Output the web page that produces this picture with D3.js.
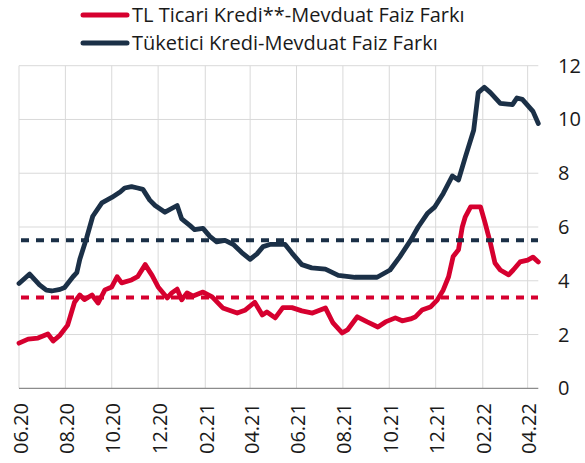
<!DOCTYPE html>
<html>
<head>
<meta charset="UTF-8">
<script src="https://d3js.org/d3.v7.min.js"></script>
<style>
  body { margin: 0; background: #fff; }
  text { font-family: "Open Sans", "Noto Sans", sans-serif; fill: #1a1a1a; }
</style>
</head>
<body>
<div id="chart"></div>
<script>
// legend names
var seriesNames = ["TL Ticari Kredi**-Mevduat Faiz Farkı", "Tüketici Kredi-Mevduat Faiz Farkı"];

// x-axis tick labels (every two months)
var tickLabels = ["06.20","08.20","10.20","12.20","02.21","04.21","06.21","08.21","10.21","12.21","02.22","04.22"];
var tickDates = ["2020-06-01","2020-08-01","2020-10-01","2020-12-01","2021-02-01","2021-04-01",
                 "2021-06-01","2021-08-01","2021-10-01","2021-12-01","2022-02-01","2022-04-01"];
var yTicks = [0, 2, 4, 6, 8, 10, 12];

// TL commercial loan - deposit spread
var redDates = ["2020-06-01","2020-06-13","2020-06-26","2020-07-09","2020-07-16","2020-07-25","2020-08-04",
  "2020-08-13","2020-08-20","2020-08-26","2020-09-05","2020-09-13","2020-09-22","2020-10-01","2020-10-08",
  "2020-10-14","2020-10-27","2020-11-04","2020-11-14","2020-11-20","2020-11-23","2020-12-01","2020-12-13",
  "2020-12-19","2020-12-26","2021-01-01","2021-01-08","2021-01-16","2021-01-29","2021-02-10","2021-02-24",
  "2021-03-15","2021-03-25","2021-04-07","2021-04-17","2021-04-23","2021-05-04","2021-05-14","2021-05-26",
  "2021-06-08","2021-06-22","2021-07-09","2021-07-19","2021-07-31","2021-08-07","2021-08-20","2021-09-02",
  "2021-09-16","2021-09-26","2021-10-09","2021-10-18","2021-10-29","2021-11-04","2021-11-13","2021-11-24",
  "2021-12-03","2021-12-11","2021-12-18","2021-12-24","2021-12-31","2022-01-05","2022-01-09","2022-01-16",
  "2022-01-29","2022-02-04","2022-02-11","2022-02-17","2022-02-24","2022-03-07","2022-03-13","2022-03-22",
  "2022-04-01","2022-04-08","2022-04-15"];
var redValues = [1.68,1.83,1.87,2.02,1.76,1.98,2.35,
  3.2,3.47,3.3,3.47,3.17,3.66,3.77,4.15,
  3.92,4.03,4.15,4.6,4.33,4.2,3.77,3.36,
  3.55,3.69,3.29,3.55,3.43,3.58,3.4,2.99,
  2.8,2.9,3.2,2.73,2.84,2.62,3.0,3.0,
  2.88,2.8,2.99,2.43,2.06,2.17,2.66,2.47,
  2.28,2.47,2.62,2.51,2.58,2.65,2.91,3.02,
  3.28,3.66,4.15,4.9,5.15,6.0,6.38,6.75,
  6.75,6.15,5.4,4.66,4.4,4.22,4.4,4.7,
  4.77,4.88,4.7];

// consumer loan - deposit spread
var navyDates = ["2020-06-01","2020-06-15","2020-06-28","2020-07-07","2020-07-14","2020-07-25","2020-07-31",
  "2020-08-11","2020-08-16","2020-08-20","2020-08-29","2020-09-06","2020-09-18","2020-10-01","2020-10-12",
  "2020-10-18","2020-10-27","2020-11-04","2020-11-11","2020-11-20","2020-11-27","2020-12-10","2020-12-26",
  "2021-01-01","2021-01-12","2021-01-18","2021-01-29","2021-02-07","2021-02-16","2021-02-27","2021-03-10",
  "2021-03-21","2021-04-01","2021-04-10","2021-04-18","2021-04-27","2021-05-10","2021-05-17","2021-05-26",
  "2021-06-08","2021-06-21","2021-07-09","2021-07-26","2021-08-17","2021-09-15","2021-10-02","2021-10-15",
  "2021-10-29","2021-11-08","2021-11-20","2021-11-30","2021-12-11","2021-12-23","2021-12-31","2022-01-09",
  "2022-01-20","2022-01-26","2022-02-03","2022-02-11","2022-02-24","2022-03-12","2022-03-18","2022-03-25",
  "2022-04-08","2022-04-15"];
var navyValues = [3.9,4.25,3.85,3.65,3.62,3.68,3.75,
  4.15,4.3,4.8,5.6,6.4,6.9,7.1,7.3,
  7.45,7.5,7.45,7.4,7.0,6.8,6.55,6.8,
  6.3,6.05,5.9,5.95,5.65,5.45,5.5,5.35,
  5.05,4.8,5.0,5.27,5.35,5.35,5.35,5.03,
  4.6,4.48,4.43,4.2,4.13,4.13,4.4,4.9,
  5.5,6.0,6.5,6.75,7.25,7.9,7.75,8.6,
  9.6,11.0,11.2,11.0,10.6,10.55,10.8,10.75,
  10.3,9.85];

// period averages (dashed lines)
var averages = [3.38, 5.51];
var colors = ["#d6002f", "#1b3047"];

var W = 585, H = 463;
var parse = d3.timeParse("%Y-%m-%d");

var svg = d3.select("#chart").append("svg").attr("width", W).attr("height", H);

var x = d3.scaleTime()
  .domain([parse("2020-06-01"), parse("2022-04-15")])
  .range([19, 538.3]);
var y = d3.scaleLinear().domain([0, 12]).range([388.3, 65.7]);

// gridlines
svg.append("g").selectAll("line").data(yTicks.slice(1)).enter().append("line")
  .attr("x1", 19).attr("x2", 538.3)
  .attr("y1", function(d){ return y(d); }).attr("y2", function(d){ return y(d); })
  .attr("stroke", "#d9d9d9").attr("stroke-width", 1);
svg.append("g").selectAll("line").data(tickDates).enter().append("line")
  .attr("x1", function(d){ return x(parse(d)); }).attr("x2", function(d){ return x(parse(d)); })
  .attr("y1", y(12)).attr("y2", y(0))
  .attr("stroke", "#d9d9d9").attr("stroke-width", 1);
// bottom axis line
svg.append("line").attr("x1", 19).attr("x2", 538.3).attr("y1", y(0)).attr("y2", y(0))
  .attr("stroke", "#8c8c8c").attr("stroke-width", 1.3);

// right axis labels
svg.append("g").selectAll("text").data(yTicks).enter().append("text")
  .attr("x", 558).attr("y", function(d){ return y(d); })
  .attr("dy", "0.35em").attr("font-size", 20)
  .text(function(d){ return d; });

// x labels (rotated)
svg.append("g").selectAll("text").data(tickDates).enter().append("text")
  .attr("transform", function(d){ return "translate(" + (x(parse(d)) + 1.5) + ",403) rotate(-90)"; })
  .attr("text-anchor", "end").attr("dy", "0.35em").attr("font-size", 20)
  .text(function(d, i){ return tickLabels[i]; });

// series lines
var line = d3.line()
  .x(function(d){ return x(d[0]); })
  .y(function(d){ return y(d[1]); });
var red = redDates.map(function(d, i){ return [parse(d), redValues[i]]; });
var navy = navyDates.map(function(d, i){ return [parse(d), navyValues[i]]; });

[red, navy].forEach(function(s, i){
  svg.append("path").datum(s)
    .attr("d", line)
    .attr("fill", "none")
    .attr("stroke", colors[i])
    .attr("stroke-width", 4.8)
    .attr("stroke-linejoin", "round")
    .attr("stroke-linecap", "round");
});

// average dashed lines
averages.forEach(function(a, i){
  svg.append("line")
    .attr("x1", 21).attr("x2", 538)
    .attr("y1", y(a)).attr("y2", y(a))
    .attr("stroke", colors[i]).attr("stroke-width", 4)
    .attr("stroke-dasharray", "8,7");
});

// legend
var leg = svg.append("g");
seriesNames.forEach(function(n, i){
  var ly = 15 + i * 28;
  leg.append("line").attr("x1", 83).attr("x2", 127).attr("y1", ly).attr("y2", ly)
    .attr("stroke", colors[i]).attr("stroke-width", 5).attr("stroke-linecap", "round");
  leg.append("text").attr("x", 132).attr("y", ly).attr("dy", "0.35em")
    .attr("font-size", 20).text(n);
});
</script>
</body>
</html>
